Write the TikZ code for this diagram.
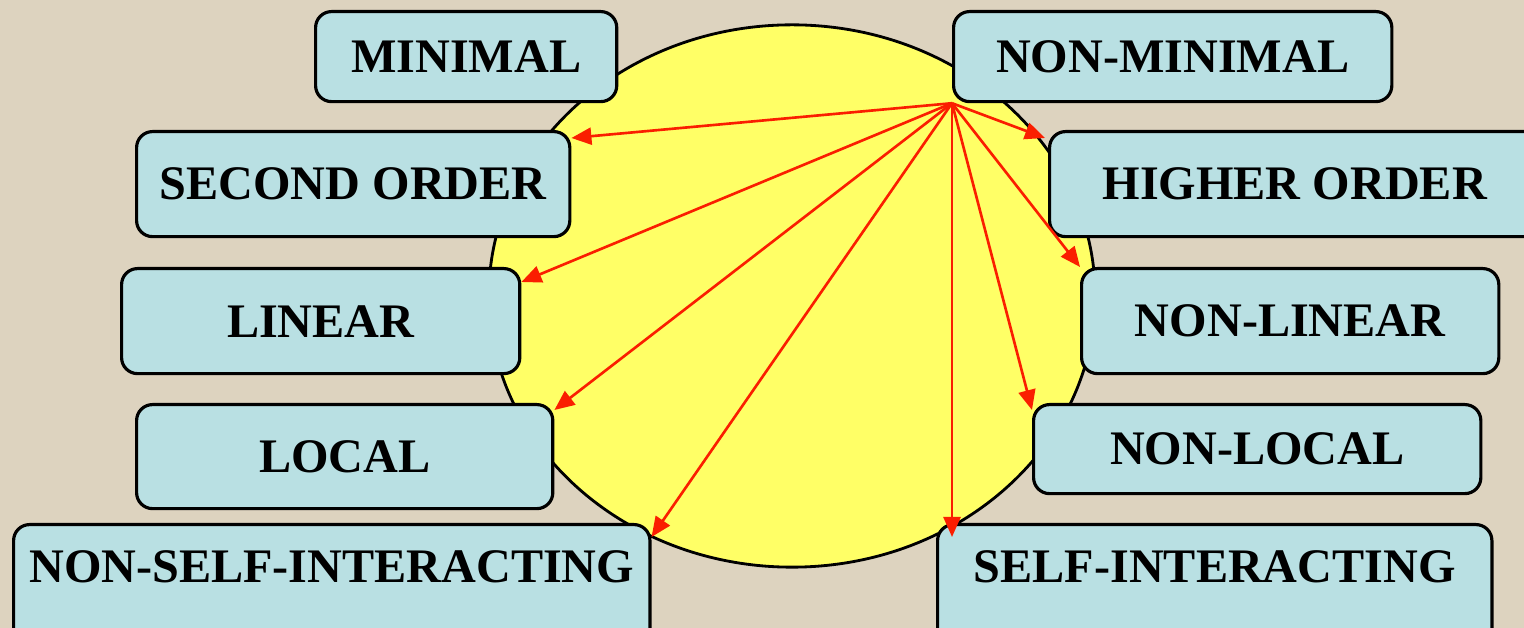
\documentclass[tikz,border=0pt]{standalone}
\usepackage{fontspec}
\setmainfont{Liberation Serif}
\usetikzlibrary{arrows.meta,calc}
\definecolor{paper}{RGB}{221,211,191}
\definecolor{boxblue}{RGB}{185,224,227}
\definecolor{sun}{RGB}{255,255,102}
\definecolor{arrowred}{RGB}{250,30,0}
\begin{document}
\begin{tikzpicture}[x=0.01cm,y=-0.01cm]
			\tikzstyle{box} = [draw, line width=0.9pt, fill=boxblue, rectangle, rounded corners=0.16cm, anchor=north west, minimum height=1.05cm, inner sep=0pt, font=\fontsize{13.7}{16}\selectfont\bfseries]
			\tikzstyle{cut} = [box, minimum height=1.3cm, text height=0.32cm, text depth=0.46cm]
			\tikzstyle{link} = [-{Triangle[length=0.2cm,width=0.17cm]}, draw=arrowred, fill=arrowred, line width=0.75pt]

			\useasboundingbox (0,0) rectangle (1524,628);
			\clip (0,0) rectangle (1524,628);
			\fill[paper] (0,0) rectangle (1524,628);

			% the yellow disc behind the labels
			\draw[fill=sun, line width=0.8pt] (792,296) ellipse [x radius=3.03cm, y radius=2.71cm];

			\node[box, minimum width=3.01cm, minimum height=0.9cm] (min) at (314,10) {MINIMAL};
			\node[box, minimum width=4.38cm, minimum height=0.9cm] (nonmin) at (952,10) {NON-MINIMAL};
			\node[box, minimum width=4.33cm] (second) at (135,130) {SECOND ORDER};
			\node[box, minimum width=4.90cm] (higher) at (1048,130) {HIGHER ORDER};
			\node[box, minimum width=3.98cm] (linear) at (120,267) {LINEAR};
			\node[box, minimum width=4.17cm] (nonlin) at (1080,267) {NON-LINEAR};
			\node[box, minimum width=4.16cm, minimum height=1.04cm] (local) at (135,403) {LOCAL};
			\node[box, minimum width=4.47cm, minimum height=0.89cm] (nonloc) at (1032,403) {NON-LOCAL};
			\node[cut, minimum width=6.36cm] (nonself) at (12,523) {NON-SELF-INTERACTING};
			\node[cut, minimum width=5.54cm] (self) at (936,523) {SELF-INTERACTING};

			\draw[link] (nonmin.south west) -- ([yshift=-0.08cm]second.north east);
			\draw[link] (nonmin.south west) -- ([xshift=-0.03cm,yshift=-0.08cm]higher.north west);
			\draw[link] (nonmin.south west) -- ([yshift=-0.15cm]linear.north east);
			\draw[link] (nonmin.south west) -- (nonlin.north west);
			\draw[link] (nonmin.south west) -- ([yshift=-0.07cm]local.north east);
			\draw[link] (nonmin.south west) -- ([yshift=-0.07cm]nonloc.north west);
			\draw[link] (nonmin.south west) -- ([yshift=-0.14cm]nonself.north east);
			\draw[link] (nonmin.south west) -- ($(nonmin.south west |- self.north)+(0,14)$);
	\end{tikzpicture}
\end{document}
